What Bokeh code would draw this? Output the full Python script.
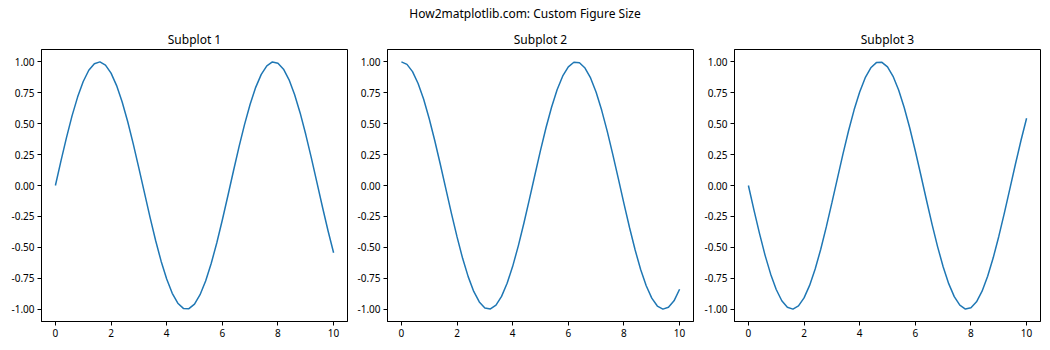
from bokeh.plotting import figure
from bokeh.layouts import row, column
from bokeh.models import Div, FixedTicker, NumeralTickFormatter, Range1d
from bokeh.embed import file_html
from bokeh.resources import INLINE

FONT = "Noto Sans"

suptitle = "How2matplotlib.com: Custom Figure Size"
titles = ["Subplot 1", "Subplot 2", "Subplot 3"]

x = [0.0, 0.2, 0.4, 0.6, 0.8, 1.0, 1.2, 1.4, 1.6, 1.8, 2.0, 2.2, 2.4, 2.6, 2.8, 3.0,
     3.2, 3.4, 3.6, 3.8, 4.0, 4.2, 4.4, 4.6, 4.8, 5.0, 5.2, 5.4, 5.6, 5.8, 6.0, 6.2,
     6.4, 6.6, 6.8, 7.0, 7.2, 7.4, 7.6, 7.8, 8.0, 8.2, 8.4, 8.6, 8.8, 9.0, 9.2, 9.4,
     9.6, 9.8, 10.0]

y1 = [0.000, 0.199, 0.389, 0.565, 0.717, 0.841, 0.932, 0.985, 1.000, 0.974, 0.909,
      0.808, 0.675, 0.516, 0.335, 0.141, -0.058, -0.256, -0.443, -0.612, -0.757,
      -0.872, -0.952, -0.994, -0.996, -0.959, -0.883, -0.773, -0.631, -0.465, -0.279,
      -0.083, 0.117, 0.312, 0.494, 0.657, 0.794, 0.899, 0.968, 0.999, 0.989, 0.941,
      0.855, 0.734, 0.585, 0.412, 0.223, 0.025, -0.174, -0.366, -0.544]

y2 = [1.000, 0.980, 0.921, 0.825, 0.697, 0.540, 0.362, 0.170, -0.029, -0.227, -0.416,
      -0.589, -0.737, -0.857, -0.942, -0.990, -0.998, -0.967, -0.897, -0.791, -0.654,
      -0.490, -0.307, -0.112, 0.087, 0.284, 0.469, 0.635, 0.776, 0.886, 0.960, 0.997,
      0.993, 0.950, 0.870, 0.754, 0.608, 0.438, 0.250, 0.054, -0.146, -0.340, -0.520,
      -0.680, -0.811, -0.911, -0.975, -1.000, -0.985, -0.933, -0.839]

y3 = [-0.000, -0.199, -0.389, -0.565, -0.717, -0.841, -0.932, -0.985, -1.000, -0.974,
      -0.909, -0.808, -0.675, -0.516, -0.335, -0.141, 0.058, 0.256, 0.443, 0.612, 0.757,
      0.872, 0.952, 0.994, 0.996, 0.959, 0.883, 0.773, 0.631, 0.465, 0.279, 0.083,
      -0.117, -0.312, -0.494, -0.657, -0.794, -0.899, -0.968, -0.999, -0.989, -0.941,
      -0.855, -0.734, -0.585, -0.412, -0.223, -0.025, 0.174, 0.366, 0.544]

x_ticks = [0, 2, 4, 6, 8, 10]
y_ticks = [-1.0, -0.75, -0.5, -0.25, 0.0, 0.25, 0.5, 0.75, 1.0]

series = [y1, y2, y3]
borders = [(41, 3), (37, 4), (37, 10)]

figs = []
for i, ys in enumerate(series):
    bl, br = borders[i]
    p = figure(frame_width=306, frame_height=272, output_backend="svg",
               toolbar_location=None, min_border_left=bl, min_border_right=br,
               min_border_top=23, min_border_bottom=29,
               x_range=Range1d(-0.5, 10.5), y_range=Range1d(-1.1, 1.1))
    p.line(x, ys, line_color="#1f77b4", line_width=1.5)
    p.title.text = titles[i]
    p.title.align = "center"
    p.title.text_font = FONT
    p.title.text_font_size = "12px"
    p.title.text_font_style = "normal"
    p.title.text_color = "black"
    p.title.standoff = 4
    p.xgrid.visible = False
    p.ygrid.visible = False
    p.outline_line_color = "black"
    p.outline_line_alpha = 1
    p.outline_line_width = 1
    p.xaxis.ticker = FixedTicker(ticks=x_ticks)
    p.yaxis.ticker = FixedTicker(ticks=y_ticks)
    p.yaxis.formatter = NumeralTickFormatter(format="0.00")
    for ax in (p.xaxis, p.yaxis):
        ax.minor_tick_line_color = None
        ax.major_tick_out = 4
        ax.major_tick_in = 0
        ax.major_tick_line_color = "black"
        ax.axis_line_color = "black"
        ax.major_label_text_font = FONT
        ax.major_label_text_font_size = "10px"
        ax.major_label_text_color = "black"
        ax.major_label_standoff = 3
    p.background_fill_color = "white"
    p.border_fill_color = "white"
    figs.append(p)

div = Div(text=f'<div style="width:1050px;text-align:center;font-family:\'{FONT}\';'
               f'font-size:12px;color:black;padding-top:5px;">{suptitle}</div>',
          width=1050, height=26, margin=(0, 0, 0, 0))

layout = column(div, row(*figs, spacing=0), spacing=0)

open("out.html", "w").write(file_html(layout, INLINE))
